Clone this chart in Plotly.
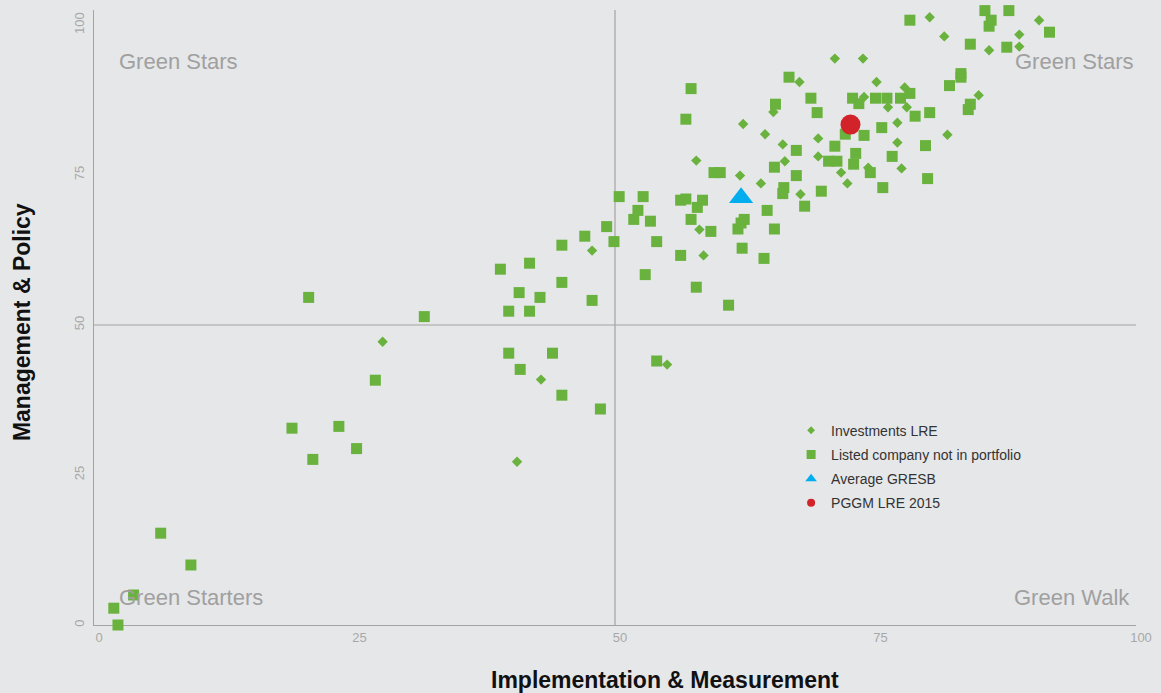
import plotly.graph_objects as go

# ---------------- data ----------------
invest_x = [27.7, 42.9, 40.6, 55.0, 47.8, 58.1, 58.5, 57.8, 62.0, 64.0, 67.8, 62.3, 64.4, 66.1,
            66.3, 65.2, 67.7, 69.5, 69.5, 71.7, 72.3, 74.3, 71.1, 73.8, 75.1, 73.9, 77.8, 76.2,
            78.0, 77.1, 77.1, 77.5, 81.9, 84.9, 81.6, 80.2, 84.5, 87.6, 90.7, 88.8, 88.8, 85.9]
invest_y = [47.2, 40.9, 27.2, 43.4, 62.4, 65.9, 61.6, 77.4, 74.9, 73.6, 71.8, 83.5, 81.8, 80.1,
            77.3, 85.5, 90.5, 81.1, 78.1, 75.4, 73.6, 76.2, 94.4, 94.4, 90.5, 88.0, 89.6, 86.3,
            86.3, 83.7, 80.4, 76.1, 81.7, 88.3, 98.1, 101.3, 104.3, 103.5, 100.8, 98.4, 96.4, 95.8]

listed_x = [1.9, 2.3, 3.8, 6.4, 9.3, 19.0, 21.0, 23.5, 25.2, 27.0, 20.6, 31.7, 39.8, 41.8,
            39.8, 44.0, 40.9, 44.9, 48.6, 54.0, 39.0, 41.8, 40.8, 42.8, 44.9, 44.9, 47.1, 47.8,
            49.2, 49.9, 50.4, 52.7, 52.2, 51.8, 53.4, 54.0, 52.9, 56.3, 56.8, 58.4, 57.9, 57.3,
            59.2, 56.3, 57.8, 60.9, 59.5, 60.1, 62.4, 62.1, 61.8, 62.2, 64.3, 64.6, 65.3, 66.2,
            66.1, 65.3, 67.4, 67.4, 68.2, 69.8, 71.1, 70.5, 71.3, 73.1, 72.9, 72.1, 73.9, 75.6,
            74.5, 75.7, 76.6, 79.8, 80.0, 57.3, 56.8, 66.7, 68.8, 65.4, 69.4, 72.8, 73.4, 75.0,
            76.1, 77.4, 78.3, 78.8, 80.2, 84.1, 83.9, 82.1, 83.2, 83.2, 84.1, 87.6, 91.7, 78.3,
            85.5, 87.8, 86.1, 85.9]
listed_y = [2.8, 0.0, 5.0, 15.3, 10.0, 32.8, 27.6, 33.1, 29.4, 40.8, 54.6, 51.4, 52.3, 52.3,
            45.3, 45.3, 42.6, 38.3, 36.0, 44.0, 59.3, 60.3, 55.4, 54.6, 63.3, 57.1, 64.8, 54.1,
            66.4, 63.9, 71.4, 71.4, 69.1, 67.6, 67.3, 63.9, 58.4, 70.8, 71.0, 70.8, 69.6, 67.6,
            65.6, 61.6, 56.3, 53.3, 75.4, 75.4, 67.6, 67.0, 66.0, 62.8, 61.1, 69.1, 76.3, 72.9,
            71.9, 66.0, 79.1, 74.9, 69.8, 72.3, 79.8, 77.3, 77.3, 78.6, 76.8, 81.8, 81.6, 82.9,
            75.4, 72.9, 78.1, 79.9, 74.4, 89.4, 84.3, 91.3, 87.8, 86.8, 85.4, 87.8, 86.9, 87.8,
            87.8, 87.8, 88.6, 84.8, 85.4, 86.8, 85.9, 89.9, 91.9, 91.3, 96.8, 96.3, 98.8, 100.8,
            102.4, 102.4, 100.8, 99.8]

avg_x = [62.1]
avg_y = [71.2]
pggm_x = [72.6]
pggm_y = [83.4]

series_names = ["Investments LRE", "Listed company not in portfolio", "Average GRESB", "PGGM LRE 2015"]
x_ticks = [0, 25, 50, 75, 100]
y_ticks = [0, 25, 50, 75, 100]
quadrant_labels = ["Green Stars", "Green Stars", "Green Starters", "Green Walk"]
x_title = "Implementation & Measurement"
y_title = "Management & Policy"

# ---------------- style ----------------
GREEN = "#6ab23e"
BLUE = "#00aeef"
RED = "#d2232a"
BG = "#e6e7e9"
AXIS = "#a3a3a3"
LABEL = "#a0a0a0"
FONT = "Liberation Sans, Arial, sans-serif"

fig = go.Figure()

fig.add_trace(go.Scatter(x=invest_x, y=invest_y, mode="markers", showlegend=False,
                         marker=dict(symbol="diamond", size=8, color=GREEN), cliponaxis=False))
fig.add_trace(go.Scatter(x=listed_x, y=listed_y, mode="markers", showlegend=False,
                         marker=dict(symbol="square", size=11, color=GREEN), cliponaxis=False))
fig.add_trace(go.Scatter(x=avg_x, y=avg_y, mode="markers", showlegend=False,
                         marker=dict(symbol="triangle-up", size=21, color=BLUE), cliponaxis=False))
fig.add_trace(go.Scatter(x=pggm_x, y=pggm_y, mode="markers", showlegend=False,
                         marker=dict(symbol="circle", size=20, color=RED), cliponaxis=False))

# legend-only entries (smaller symbols as in the reference legend)
leg_styles = [("diamond", 6, GREEN), ("square", 9, GREEN), ("triangle-up", 10, BLUE), ("circle", 8, RED)]
for i, (name, (sym, sz, col)) in enumerate(zip(series_names, leg_styles)):
    fig.add_trace(go.Scatter(x=[None], y=[None], mode="markers", name=name,
                             legendgroup="g%d" % i,
                             marker=dict(symbol=sym, size=sz, color=col)))

# quadrant divider lines
fig.add_shape(type="line", xref="x", yref="paper", x0=50, x1=50, y0=0, y1=1,
              line=dict(color=AXIS, width=1.2), layer="below")
fig.add_shape(type="line", xref="paper", yref="y", x0=0, x1=1, y0=50, y1=50,
              line=dict(color=AXIS, width=1.2), layer="below")

# quadrant labels
qpos = [(0.022, 0.917, "left"), (1.0, 0.917, "right"), (0.022, 0.044, "left"), (0.996, 0.044, "right")]
for txt, (px, py, anc) in zip(quadrant_labels, qpos):
    fig.add_annotation(text=txt, xref="paper", yref="paper", x=px, y=py, xanchor=anc,
                       yanchor="middle", showarrow=False, font=dict(size=22, color=LABEL, family=FONT))

# axis titles
fig.add_annotation(text="<b>%s</b>" % x_title, xref="paper", yref="paper", x=0.548, y=-0.0894,
                   xanchor="center", yanchor="middle", showarrow=False,
                   font=dict(size=23, color="#111111", family=FONT))
fig.add_annotation(text="<b>%s</b>" % y_title, xref="paper", yref="paper", x=-0.069, y=0.4927,
                   xanchor="center", yanchor="middle", showarrow=False, textangle=-90,
                   font=dict(size=23, color="#111111", family=FONT))

fig.update_layout(
    width=1161, height=693,
    margin=dict(l=94, r=25, t=10, b=68),
    paper_bgcolor=BG, plot_bgcolor=BG,
    font=dict(family=FONT),
    legend=dict(x=0.669, y=0.342, xanchor="left", yanchor="top",
                bgcolor="rgba(0,0,0,0)", font=dict(size=14, color="#333333"),
                traceorder="grouped", tracegroupgap=3),
)
fig.update_xaxes(range=[0, 100], tickvals=x_ticks, ticktext=[str(v) for v in x_ticks],
                 showgrid=False, zeroline=False, showline=True, linecolor=AXIS, linewidth=1.2,
                 tickfont=dict(size=13, color="#a8a8a8"), ticks="", layer="below traces",
                 ticklabelshift=5)
fig.update_yaxes(range=[0, 102.5], tickvals=y_ticks, ticktext=[str(v) for v in y_ticks],
                 showgrid=False, zeroline=False, showline=True, linecolor=AXIS, linewidth=1.2,
                 tickfont=dict(size=13, color="#a8a8a8"), ticks="", tickangle=-90,
                 ticklabelstandoff=4, layer="below traces")

fig.write_html("out.html", config={"displayModeBar": False},
               post_script="document.body.style.margin='0';document.body.style.background='%s';" % BG)
